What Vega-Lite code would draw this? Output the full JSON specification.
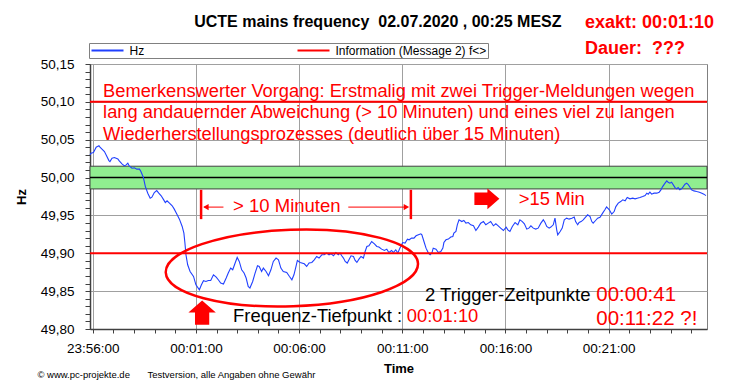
{
"$schema": "https://vega.github.io/schema/vega-lite/v6.json",
"width": 617, "height": 265,
"autosize": {"type": "none"},
"padding": {"left": 90, "top": 64, "right": 43, "bottom": 62},
"background": "white",
"config": {"font": "Liberation Sans", "view": {"stroke": "#808080", "strokeWidth": 1}},
"datasets": {
"frequency": [
{"time":"2020-07-01T23:55:52","hz":50.0299},{"time":"2020-07-01T23:55:55","hz":50.0322},{"time":"2020-07-01T23:56:02","hz":50.0330},{"time":"2020-07-01T23:56:10","hz":50.0401},{"time":"2020-07-01T23:56:18","hz":50.0422},{"time":"2020-07-01T23:56:21","hz":50.0401},{"time":"2020-07-01T23:56:29","hz":50.0365},{"time":"2020-07-01T23:56:34","hz":50.0343},{"time":"2020-07-01T23:56:39","hz":50.0299},{"time":"2020-07-01T23:56:47","hz":50.0224},{"time":"2020-07-01T23:56:50","hz":50.0211},{"time":"2020-07-01T23:56:56","hz":50.0256},{"time":"2020-07-01T23:57:03","hz":50.0264},{"time":"2020-07-01T23:57:13","hz":50.0247},{"time":"2020-07-01T23:57:17","hz":50.0220},{"time":"2020-07-01T23:57:25","hz":50.0181},{"time":"2020-07-01T23:57:32","hz":50.0154},{"time":"2020-07-01T23:57:37","hz":50.0168},{"time":"2020-07-01T23:57:42","hz":50.0190},{"time":"2020-07-01T23:57:46","hz":50.0154},{"time":"2020-07-01T23:57:54","hz":50.0124},{"time":"2020-07-01T23:58:01","hz":50.0128},{"time":"2020-07-01T23:58:08","hz":50.0111},{"time":"2020-07-01T23:58:16","hz":50.0111},{"time":"2020-07-01T23:58:20","hz":50.0079},{"time":"2020-07-01T23:58:27","hz":50.0005},{"time":"2020-07-01T23:58:33","hz":49.9881},{"time":"2020-07-01T23:58:40","hz":49.9794},{"time":"2020-07-01T23:58:47","hz":49.9728},{"time":"2020-07-01T23:58:52","hz":49.9741},{"time":"2020-07-01T23:58:59","hz":49.9802},{"time":"2020-07-01T23:59:06","hz":49.9828},{"time":"2020-07-01T23:59:12","hz":49.9794},{"time":"2020-07-01T23:59:19","hz":49.9759},{"time":"2020-07-01T23:59:25","hz":49.9715},{"time":"2020-07-01T23:59:31","hz":49.9670},{"time":"2020-07-01T23:59:36","hz":49.9693},{"time":"2020-07-01T23:59:43","hz":49.9662},{"time":"2020-07-01T23:59:51","hz":49.9627},{"time":"2020-07-01T23:59:57","hz":49.9583},
{"time":"2020-07-02T00:00:04","hz":49.9521},{"time":"2020-07-02T00:00:12","hz":49.9451},{"time":"2020-07-02T00:00:20","hz":49.9354},{"time":"2020-07-02T00:00:25","hz":49.9266},{"time":"2020-07-02T00:00:28","hz":49.9135},{"time":"2020-07-02T00:00:31","hz":49.8980},{"time":"2020-07-02T00:00:36","hz":49.8848},{"time":"2020-07-02T00:00:43","hz":49.8760},{"time":"2020-07-02T00:00:53","hz":49.8694},{"time":"2020-07-02T00:01:00","hz":49.8584},{"time":"2020-07-02T00:01:10","hz":49.8518},{"time":"2020-07-02T00:01:16","hz":49.8584},{"time":"2020-07-02T00:01:22","hz":49.8637},{"time":"2020-07-02T00:01:29","hz":49.8628},{"time":"2020-07-02T00:01:36","hz":49.8641},{"time":"2020-07-02T00:01:43","hz":49.8641},{"time":"2020-07-02T00:01:51","hz":49.8716},{"time":"2020-07-02T00:01:59","hz":49.8686},{"time":"2020-07-02T00:02:05","hz":49.8650},{"time":"2020-07-02T00:02:12","hz":49.8607},{"time":"2020-07-02T00:02:20","hz":49.8594},{"time":"2020-07-02T00:02:28","hz":49.8673},{"time":"2020-07-02T00:02:34","hz":49.8739},{"time":"2020-07-02T00:02:41","hz":49.8805},{"time":"2020-07-02T00:02:47","hz":49.8782},{"time":"2020-07-02T00:02:54","hz":49.8871},{"time":"2020-07-02T00:03:00","hz":49.8945},{"time":"2020-07-02T00:03:06","hz":49.8892},{"time":"2020-07-02T00:03:13","hz":49.8782},{"time":"2020-07-02T00:03:20","hz":49.8739},{"time":"2020-07-02T00:03:26","hz":49.8673},{"time":"2020-07-02T00:03:32","hz":49.8562},{"time":"2020-07-02T00:03:37","hz":49.8541},{"time":"2020-07-02T00:03:45","hz":49.8628},{"time":"2020-07-02T00:03:52","hz":49.8739},{"time":"2020-07-02T00:03:59","hz":49.8835},{"time":"2020-07-02T00:04:04","hz":49.8826},{"time":"2020-07-02T00:04:11","hz":49.8760},{"time":"2020-07-02T00:04:16","hz":49.8805},{"time":"2020-07-02T00:04:24","hz":49.8760},{"time":"2020-07-02T00:04:31","hz":49.8703},{"time":"2020-07-02T00:04:38","hz":49.8782},{"time":"2020-07-02T00:04:45","hz":49.8892},{"time":"2020-07-02T00:04:53","hz":49.8937},{"time":"2020-07-02T00:05:00","hz":49.8914},{"time":"2020-07-02T00:05:07","hz":49.8805},{"time":"2020-07-02T00:05:14","hz":49.8760},{"time":"2020-07-02T00:05:24","hz":49.8747},{"time":"2020-07-02T00:05:32","hz":49.8694},{"time":"2020-07-02T00:05:39","hz":49.8650},{"time":"2020-07-02T00:05:45","hz":49.8716},{"time":"2020-07-02T00:05:51","hz":49.8826},{"time":"2020-07-02T00:05:55","hz":49.8905},{"time":"2020-07-02T00:06:03","hz":49.8879},{"time":"2020-07-02T00:06:15","hz":49.8861},{"time":"2020-07-02T00:06:22","hz":49.8826},{"time":"2020-07-02T00:06:29","hz":49.8871},{"time":"2020-07-02T00:06:37","hz":49.8879},{"time":"2020-07-02T00:06:44","hz":49.8914},{"time":"2020-07-02T00:06:51","hz":49.8958},{"time":"2020-07-02T00:06:58","hz":49.8937},{"time":"2020-07-02T00:07:06","hz":49.8980},{"time":"2020-07-02T00:07:13","hz":49.8980},{"time":"2020-07-02T00:07:20","hz":49.9003},{"time":"2020-07-02T00:07:27","hz":49.8980},{"time":"2020-07-02T00:07:33","hz":49.8993},{"time":"2020-07-02T00:07:40","hz":49.8967},{"time":"2020-07-02T00:07:47","hz":49.9010},{"time":"2020-07-02T00:07:54","hz":49.8980},{"time":"2020-07-02T00:07:59","hz":49.9003},{"time":"2020-07-02T00:08:04","hz":49.8967},{"time":"2020-07-02T00:08:09","hz":49.8937},{"time":"2020-07-02T00:08:14","hz":49.8892},{"time":"2020-07-02T00:08:20","hz":49.8871},{"time":"2020-07-02T00:08:25","hz":49.8914},{"time":"2020-07-02T00:08:31","hz":49.8967},{"time":"2020-07-02T00:08:38","hz":49.8958},{"time":"2020-07-02T00:08:43","hz":49.8905},{"time":"2020-07-02T00:08:48","hz":49.8879},{"time":"2020-07-02T00:08:54","hz":49.8923},{"time":"2020-07-02T00:09:00","hz":49.8958},{"time":"2020-07-02T00:09:07","hz":49.8937},{"time":"2020-07-02T00:09:12","hz":49.9024},{"time":"2020-07-02T00:09:17","hz":49.9090},{"time":"2020-07-02T00:09:23","hz":49.9099},{"time":"2020-07-02T00:09:31","hz":49.9156},{"time":"2020-07-02T00:09:39","hz":49.9125},{"time":"2020-07-02T00:09:46","hz":49.9090},{"time":"2020-07-02T00:09:52","hz":49.9082},{"time":"2020-07-02T00:10:00","hz":49.9055},{"time":"2020-07-02T00:10:08","hz":49.9037},{"time":"2020-07-02T00:10:15","hz":49.9055},{"time":"2020-07-02T00:10:21","hz":49.9010},{"time":"2020-07-02T00:10:29","hz":49.9037},{"time":"2020-07-02T00:10:34","hz":49.9010},{"time":"2020-07-02T00:10:41","hz":49.9046},{"time":"2020-07-02T00:10:47","hz":49.9003},{"time":"2020-07-02T00:10:53","hz":49.9068},{"time":"2020-07-02T00:11:01","hz":49.9142},{"time":"2020-07-02T00:11:08","hz":49.9134},{"time":"2020-07-02T00:11:15","hz":49.9187},{"time":"2020-07-02T00:11:20","hz":49.9178},{"time":"2020-07-02T00:11:27","hz":49.9200},{"time":"2020-07-02T00:11:34","hz":49.9200},{"time":"2020-07-02T00:11:40","hz":49.9231},{"time":"2020-07-02T00:11:47","hz":49.9244},{"time":"2020-07-02T00:11:54","hz":49.9257},{"time":"2020-07-02T00:11:57","hz":49.9244},{"time":"2020-07-02T00:12:03","hz":49.9156},{"time":"2020-07-02T00:12:09","hz":49.9068},{"time":"2020-07-02T00:12:16","hz":49.9003},{"time":"2020-07-02T00:12:21","hz":49.8980},{"time":"2020-07-02T00:12:26","hz":49.9003},{"time":"2020-07-02T00:12:30","hz":49.9068},{"time":"2020-07-02T00:12:38","hz":49.9055},{"time":"2020-07-02T00:12:45","hz":49.9010},{"time":"2020-07-02T00:12:52","hz":49.9024},{"time":"2020-07-02T00:12:58","hz":49.9068},{"time":"2020-07-02T00:13:01","hz":49.9142},{"time":"2020-07-02T00:13:07","hz":49.9178},{"time":"2020-07-02T00:13:14","hz":49.9187},{"time":"2020-07-02T00:13:21","hz":49.9214},{"time":"2020-07-02T00:13:27","hz":49.9222},{"time":"2020-07-02T00:13:30","hz":49.9266},{"time":"2020-07-02T00:13:36","hz":49.9288},{"time":"2020-07-02T00:13:40","hz":49.9376},{"time":"2020-07-02T00:13:45","hz":49.9442},{"time":"2020-07-02T00:13:53","hz":49.9419},{"time":"2020-07-02T00:13:59","hz":49.9433},{"time":"2020-07-02T00:14:05","hz":49.9398},{"time":"2020-07-02T00:14:12","hz":49.9406},{"time":"2020-07-02T00:14:19","hz":49.9376},{"time":"2020-07-02T00:14:27","hz":49.9363},{"time":"2020-07-02T00:14:34","hz":49.9301},{"time":"2020-07-02T00:14:41","hz":49.9346},{"time":"2020-07-02T00:14:48","hz":49.9398},{"time":"2020-07-02T00:14:56","hz":49.9419},{"time":"2020-07-02T00:15:03","hz":49.9376},{"time":"2020-07-02T00:15:10","hz":49.9398},{"time":"2020-07-02T00:15:17","hz":49.9419},{"time":"2020-07-02T00:15:25","hz":49.9363},{"time":"2020-07-02T00:15:32","hz":49.9389},{"time":"2020-07-02T00:15:39","hz":49.9363},{"time":"2020-07-02T00:15:46","hz":49.9332},{"time":"2020-07-02T00:15:54","hz":49.9301},{"time":"2020-07-02T00:16:02","hz":49.9346},{"time":"2020-07-02T00:16:07","hz":49.9310},{"time":"2020-07-02T00:16:13","hz":49.9288},{"time":"2020-07-02T00:16:20","hz":49.9354},{"time":"2020-07-02T00:16:28","hz":49.9406},{"time":"2020-07-02T00:16:36","hz":49.9376},{"time":"2020-07-02T00:16:42","hz":49.9442},{"time":"2020-07-02T00:16:49","hz":49.9419},{"time":"2020-07-02T00:16:55","hz":49.9389},{"time":"2020-07-02T00:17:02","hz":49.9319},{"time":"2020-07-02T00:17:08","hz":49.9332},{"time":"2020-07-02T00:17:14","hz":49.9363},{"time":"2020-07-02T00:17:21","hz":49.9332},{"time":"2020-07-02T00:17:28","hz":49.9319},{"time":"2020-07-02T00:17:35","hz":49.9332},{"time":"2020-07-02T00:17:43","hz":49.9398},{"time":"2020-07-02T00:17:50","hz":49.9442},{"time":"2020-07-02T00:17:55","hz":49.9406},{"time":"2020-07-02T00:18:00","hz":49.9354},{"time":"2020-07-02T00:18:07","hz":49.9332},{"time":"2020-07-02T00:18:12","hz":49.9346},{"time":"2020-07-02T00:18:19","hz":49.9376},{"time":"2020-07-02T00:18:24","hz":49.9464},{"time":"2020-07-02T00:18:29","hz":49.9310},{"time":"2020-07-02T00:18:32","hz":49.9244},{"time":"2020-07-02T00:18:39","hz":49.9288},{"time":"2020-07-02T00:18:45","hz":49.9332},{"time":"2020-07-02T00:18:51","hz":49.9442},{"time":"2020-07-02T00:18:58","hz":49.9464},{"time":"2020-07-02T00:19:05","hz":49.9451},{"time":"2020-07-02T00:19:13","hz":49.9464},{"time":"2020-07-02T00:19:20","hz":49.9478},{"time":"2020-07-02T00:19:24","hz":49.9419},{"time":"2020-07-02T00:19:30","hz":49.9376},{"time":"2020-07-02T00:19:34","hz":49.9406},{"time":"2020-07-02T00:19:40","hz":49.9419},{"time":"2020-07-02T00:19:46","hz":49.9442},{"time":"2020-07-02T00:19:53","hz":49.9478},{"time":"2020-07-02T00:19:59","hz":49.9508},{"time":"2020-07-02T00:20:06","hz":49.9485},{"time":"2020-07-02T00:20:11","hz":49.9419},{"time":"2020-07-02T00:20:15","hz":49.9398},{"time":"2020-07-02T00:20:22","hz":49.9433},{"time":"2020-07-02T00:20:28","hz":49.9464},{"time":"2020-07-02T00:20:35","hz":49.9475},{"time":"2020-07-02T00:20:43","hz":49.9534},{"time":"2020-07-02T00:20:49","hz":49.9574},{"time":"2020-07-02T00:20:54","hz":49.9613},{"time":"2020-07-02T00:21:02","hz":49.9574},{"time":"2020-07-02T00:21:09","hz":49.9517},{"time":"2020-07-02T00:21:16","hz":49.9551},{"time":"2020-07-02T00:21:21","hz":49.9617},{"time":"2020-07-02T00:21:28","hz":49.9662},{"time":"2020-07-02T00:21:35","hz":49.9683},{"time":"2020-07-02T00:21:41","hz":49.9706},{"time":"2020-07-02T00:21:48","hz":49.9693},{"time":"2020-07-02T00:21:54","hz":49.9736},{"time":"2020-07-02T00:22:02","hz":49.9719},{"time":"2020-07-02T00:22:10","hz":49.9728},{"time":"2020-07-02T00:22:17","hz":49.9719},{"time":"2020-07-02T00:22:23","hz":49.9728},{"time":"2020-07-02T00:22:31","hz":49.9736},{"time":"2020-07-02T00:22:39","hz":49.9749},{"time":"2020-07-02T00:22:46","hz":49.9762},{"time":"2020-07-02T00:22:51","hz":49.9794},{"time":"2020-07-02T00:22:55","hz":49.9781},{"time":"2020-07-02T00:23:00","hz":49.9807},{"time":"2020-07-02T00:23:05","hz":49.9781},{"time":"2020-07-02T00:23:12","hz":49.9794},{"time":"2020-07-02T00:23:20","hz":49.9794},{"time":"2020-07-02T00:23:27","hz":49.9807},{"time":"2020-07-02T00:23:32","hz":49.9838},{"time":"2020-07-02T00:23:37","hz":49.9881},{"time":"2020-07-02T00:23:44","hz":49.9926},{"time":"2020-07-02T00:23:49","hz":49.9956},{"time":"2020-07-02T00:23:53","hz":49.9939},{"time":"2020-07-02T00:23:58","hz":49.9926},{"time":"2020-07-02T00:24:03","hz":49.9939},{"time":"2020-07-02T00:24:08","hz":49.9904},{"time":"2020-07-02T00:24:13","hz":49.9868},{"time":"2020-07-02T00:24:18","hz":49.9851},{"time":"2020-07-02T00:24:22","hz":49.9868},{"time":"2020-07-02T00:24:27","hz":49.9838},{"time":"2020-07-02T00:24:32","hz":49.9851},{"time":"2020-07-02T00:24:37","hz":49.9881},{"time":"2020-07-02T00:24:42","hz":49.9913},{"time":"2020-07-02T00:24:47","hz":49.9926},{"time":"2020-07-02T00:24:52","hz":49.9904},{"time":"2020-07-02T00:24:57","hz":49.9868},{"time":"2020-07-02T00:25:01","hz":49.9838},{"time":"2020-07-02T00:25:08","hz":49.9824},{"time":"2020-07-02T00:25:16","hz":49.9815},{"time":"2020-07-02T00:25:24","hz":49.9807},{"time":"2020-07-02T00:25:31","hz":49.9794},{"time":"2020-07-02T00:25:37","hz":49.9781},{"time":"2020-07-02T00:25:43","hz":49.9762}
],
"limits": [{"series":"Information (Message 2) f<>","hz":50.10},{"series":"Information (Message 2) f<>","hz":49.90}]
},
"layer": [
{"data":{"values":[{}]},"mark":{"type":"rect","fill":"#90ee90","stroke":"#404040","strokeWidth":1},
 "encoding":{"x":{"datum":{"year":2020,"month":7,"date":1,"hours":23,"minutes":55,"seconds":52},"type":"temporal"},"x2":{"datum":{"year":2020,"month":7,"date":2,"hours":0,"minutes":25,"seconds":46}},
  "y":{"datum":49.985,"type":"quantitative"},"y2":{"datum":50.015}}},
{"data":{"values":[{}]},"mark":{"type":"rule","color":"#000000","strokeWidth":1.5},"encoding":{"y":{"datum":50.0,"type":"quantitative"}}},
{"data":{"name":"frequency"},"mark":{"type":"line","strokeWidth":1.1,"color":"#2040ff"},
 "encoding":{
  "x":{"field":"time","type":"temporal","scale":{"domain":[{"year":2020,"month":7,"date":1,"hours":23,"minutes":55,"seconds":52},{"year":2020,"month":7,"date":2,"hours":0,"minutes":25,"seconds":46}]},
   "axis":{"title":"Time","tickCount":100,"values":[
{"year":2020,"month":7,"date":1,"hours":23,"minutes":56},{"year":2020,"month":7,"date":1,"hours":23,"minutes":57},{"year":2020,"month":7,"date":1,"hours":23,"minutes":58},{"year":2020,"month":7,"date":1,"hours":23,"minutes":59},
{"year":2020,"month":7,"date":2,"hours":0,"minutes":0},{"year":2020,"month":7,"date":2,"hours":0,"minutes":1},{"year":2020,"month":7,"date":2,"hours":0,"minutes":2},{"year":2020,"month":7,"date":2,"hours":0,"minutes":3},{"year":2020,"month":7,"date":2,"hours":0,"minutes":4},{"year":2020,"month":7,"date":2,"hours":0,"minutes":5},{"year":2020,"month":7,"date":2,"hours":0,"minutes":6},{"year":2020,"month":7,"date":2,"hours":0,"minutes":7},{"year":2020,"month":7,"date":2,"hours":0,"minutes":8},{"year":2020,"month":7,"date":2,"hours":0,"minutes":9},{"year":2020,"month":7,"date":2,"hours":0,"minutes":10},{"year":2020,"month":7,"date":2,"hours":0,"minutes":11},{"year":2020,"month":7,"date":2,"hours":0,"minutes":12},{"year":2020,"month":7,"date":2,"hours":0,"minutes":13},{"year":2020,"month":7,"date":2,"hours":0,"minutes":14},{"year":2020,"month":7,"date":2,"hours":0,"minutes":15},{"year":2020,"month":7,"date":2,"hours":0,"minutes":16},{"year":2020,"month":7,"date":2,"hours":0,"minutes":17},{"year":2020,"month":7,"date":2,"hours":0,"minutes":18},{"year":2020,"month":7,"date":2,"hours":0,"minutes":19},{"year":2020,"month":7,"date":2,"hours":0,"minutes":20},{"year":2020,"month":7,"date":2,"hours":0,"minutes":21},{"year":2020,"month":7,"date":2,"hours":0,"minutes":22},{"year":2020,"month":7,"date":2,"hours":0,"minutes":23},{"year":2020,"month":7,"date":2,"hours":0,"minutes":24},{"year":2020,"month":7,"date":2,"hours":0,"minutes":25}],
   "labelExpr":"minutes(datum.value) % 5 == 1 ? timeFormat(datum.value, '%H:%M:%S') : ''","labelOverlap":false,"labelFlush":false,"labelBound":false,"grid":true,"gridColor":"#a0a0a0","gridWidth":1,"gridOpacity":{"condition":{"test":"minutes(datum.value) % 5 == 1","value":1},"value":0},"tickSize":4,"tickColor":"#404040","domainColor":"#404040","domainWidth":1.5,"labelFont":"Liberation Sans","labelFontSize":13.5,"labelColor":"#000000","labelPadding":8,"titleFont":"Liberation Sans","titleFontSize":13,"titleFontWeight":"bold","titleColor":"#000000","titlePadding":8}},
  "y":{"field":"hz","type":"quantitative","scale":{"domain":[49.8,50.15],"nice":false,"zero":false},
   "axis":{"title":"Hz","tickCount":100,"values":[49.8,49.81,49.82,49.83,49.84,49.85,49.86,49.87,49.88,49.89,49.9,49.91,49.92,49.93,49.94,49.95,49.96,49.97,49.98,49.99,50,50.01,50.02,50.03,50.04,50.05,50.06,50.07,50.08,50.09,50.1,50.11,50.12,50.13,50.14,50.15],"labelExpr":"round(datum.value*100) % 5 == 0 ? replace(format(datum.value, '.2f'), '.', ',') : ''","labelOverlap":false,"labelBound":false,"labelFlush":false,"grid":true,"gridColor":"#a0a0a0","gridOpacity":{"condition":{"test":"round(datum.value*100) % 5 == 0","value":1},"value":0},"tickSize":5,"tickColor":"#404040","domainColor":"#404040","domainWidth":1.5,"labelFont":"Liberation Sans","labelFontSize":13.5,"labelColor":"#000000","labelPadding":11,"titleFont":"Liberation Sans","titleFontSize":13,"titleFontWeight":"bold","titleColor":"#000000","titlePadding":12}}}},
{"data":{"name":"limits"},"mark":{"type":"rule","strokeWidth":2},"encoding":{"y":{"field":"hz","type":"quantitative"},
  "color":{"field":"series","type":"nominal","scale":{"domain":["Hz","Information (Message 2) f<>"],"range":["#2040ff","#ff0000"]},
   "legend":{"orient":"none","legendX":-1,"legendY":-21,"direction":"horizontal","title":null,"symbolType":"stroke","symbolSize":1024,"symbolStrokeWidth":2,"clipHeight":12,"labelOffset":5,"labelFontSize":12,"labelFont":"Liberation Sans","labelColor":"#000000","columnPadding":152,"strokeColor":"#808080","fillColor":"#ffffff","padding":1.5}}}},
{"data":{"values":[{}]},"mark":{"type":"rule","color":"#ff0000","strokeWidth":2.5},"encoding":{"x":{"datum":{"year":2020,"month":7,"date":2,"hours":0,"minutes":1,"seconds":15},"type":"temporal"},"y":{"datum":49.9838,"type":"quantitative"},"y2":{"datum":49.9451}}},
{"data":{"values":[{}]},"mark":{"type":"rule","color":"#ff0000","strokeWidth":2.5},"encoding":{"x":{"datum":{"year":2020,"month":7,"date":2,"hours":0,"minutes":11,"seconds":25},"type":"temporal"},"y":{"datum":49.9838,"type":"quantitative"},"y2":{"datum":49.9451}}},
{"data":{"values":[{}]},"mark":{"type":"rule","color":"#ff0000","strokeWidth":1},"encoding":{"x":{"datum":{"year":2020,"month":7,"date":2,"hours":0,"minutes":1,"seconds":24},"type":"temporal"},"x2":{"datum":{"year":2020,"month":7,"date":2,"hours":0,"minutes":2,"seconds":20}},"y":{"datum":49.961,"type":"quantitative"}}},
{"data":{"values":[{}]},"mark":{"type":"rule","color":"#ff0000","strokeWidth":1},"encoding":{"x":{"datum":{"year":2020,"month":7,"date":2,"hours":0,"minutes":8,"seconds":23},"type":"temporal"},"x2":{"datum":{"year":2020,"month":7,"date":2,"hours":0,"minutes":11,"seconds":12}},"y":{"datum":49.961,"type":"quantitative"}}},
{"data":{"values":[{}]},"mark":{"type":"point","shape":"triangle-left","filled":true,"color":"#ff0000","size":40,"opacity":1},"encoding":{"x":{"datum":{"year":2020,"month":7,"date":2,"hours":0,"minutes":1,"seconds":29},"type":"temporal"},"y":{"datum":49.961,"type":"quantitative"}}},
{"data":{"values":[{}]},"mark":{"type":"point","shape":"triangle-right","filled":true,"color":"#ff0000","size":40,"opacity":1},"encoding":{"x":{"datum":{"year":2020,"month":7,"date":2,"hours":0,"minutes":11,"seconds":12},"type":"temporal"},"y":{"datum":49.961,"type":"quantitative"}}},
{"data":{"values":[{}]},"mark":{"type":"point","shape":"M-1,-0.5L0.04,-0.5L0.04,-0.83L1,0L0.04,0.83L0.04,0.5L-1,0.5Z","filled":true,"color":"#ff0000","size":625,"opacity":1},"encoding":{"x":{"datum":{"year":2020,"month":7,"date":2,"hours":0,"minutes":15,"seconds":6},"type":"temporal"},"y":{"datum":49.9719,"type":"quantitative"}}},
{"data":{"values":[{}]},"mark":{"type":"point","shape":"M0,-0.89L1,0L0.52,0L0.52,0.89L-0.52,0.89L-0.52,0L-1,0Z","filled":true,"color":"#ff0000","size":751,"opacity":1},"encoding":{"x":{"datum":{"year":2020,"month":7,"date":2,"hours":0,"minutes":1,"seconds":18},"type":"temporal"},"y":{"datum":49.8217,"type":"quantitative"}}},
{"data":{"values":[{}]},"mark":{"type":"point","shape":"M1,0C1,0.1673 0.5523,0.303 0,0.303C-0.5523,0.303 -1,0.1673 -1,0C-1,-0.1673 -0.5523,-0.303 0,-0.303C0.5523,-0.303 1,-0.1673 1,0Z","filled":false,"color":"#ff0000","strokeWidth":2.5,"size":63700,"angle":-2,"opacity":1},"encoding":{"x":{"datum":{"year":2020,"month":7,"date":2,"hours":0,"minutes":5,"seconds":39},"type":"temporal"},"y":{"datum":49.8805,"type":"quantitative"}}},
{"data":{"values":[{}]},"mark":{"type":"text","text":["Bemerkenswerter Vorgang: Erstmalig mit zwei Trigger-Meldungen wegen","lang andauernder Abweichung (> 10 Minuten) und eines viel zu langen","Wiederherstellungsprozesses (deutlich über 15 Minuten)"],"align":"left","baseline":"alphabetic","lineHeight":21.7,"fontSize":18.3,"color":"#ff0000"},"encoding":{"x":{"datum":{"year":2020,"month":7,"date":1,"hours":23,"minutes":56,"seconds":30},"type":"temporal"},"y":{"datum":50.1069,"type":"quantitative"}}},
{"data":{"values":[{}]},"mark":{"type":"text","text":"> 10 Minuten","align":"left","baseline":"alphabetic","fontSize":18.5,"color":"#ff0000"},"encoding":{"x":{"datum":{"year":2020,"month":7,"date":2,"hours":0,"minutes":2,"seconds":48},"type":"temporal"},"y":{"datum":49.9551,"type":"quantitative"}}},
{"data":{"values":[{}]},"mark":{"type":"text","text":">15 Min","align":"left","baseline":"alphabetic","fontSize":18.4,"color":"#ff0000"},"encoding":{"x":{"datum":{"year":2020,"month":7,"date":2,"hours":0,"minutes":16,"seconds":39},"type":"temporal"},"y":{"datum":49.9633,"type":"quantitative"}}},
{"data":{"values":[{}]},"mark":{"type":"text","text":"Frequenz-Tiefpunkt :","align":"left","baseline":"alphabetic","fontSize":18.4,"color":"#000000"},"encoding":{"x":{"datum":{"year":2020,"month":7,"date":2,"hours":0,"minutes":2,"seconds":48},"type":"temporal"},"y":{"datum":49.8087,"type":"quantitative"}}},
{"data":{"values":[{}]},"mark":{"type":"text","text":"00:01:10","align":"left","baseline":"alphabetic","fontSize":18.4,"color":"#ff0000"},"encoding":{"x":{"datum":{"year":2020,"month":7,"date":2,"hours":0,"minutes":11,"seconds":13},"type":"temporal"},"y":{"datum":49.8087,"type":"quantitative"}}},
{"data":{"values":[{}]},"mark":{"type":"text","text":"2 Trigger-Zeitpunkte","align":"left","baseline":"alphabetic","fontSize":18.5,"color":"#000000"},"encoding":{"x":{"datum":{"year":2020,"month":7,"date":2,"hours":0,"minutes":12,"seconds":6},"type":"temporal"},"y":{"datum":49.8373,"type":"quantitative"}}},
{"data":{"values":[{}]},"mark":{"type":"text","text":"00:00:41","align":"left","baseline":"alphabetic","fontSize":20.5,"color":"#ff0000"},"encoding":{"x":{"datum":{"year":2020,"month":7,"date":2,"hours":0,"minutes":20,"seconds":24},"type":"temporal"},"y":{"datum":49.8373,"type":"quantitative"}}},
{"data":{"values":[{}]},"mark":{"type":"text","text":"00:11:22 ?!","align":"left","baseline":"alphabetic","fontSize":20.5,"color":"#ff0000"},"encoding":{"x":{"datum":{"year":2020,"month":7,"date":2,"hours":0,"minutes":20,"seconds":24},"type":"temporal"},"y":{"datum":49.8057,"type":"quantitative"}}},
{"data":{"values":[{}]},"mark":{"type":"text","text":"UCTE mains frequency \u00a002.07.2020 , 00:25 MESZ","align":"center","baseline":"alphabetic","fontSize":16,"fontWeight":"bold","color":"#000000"},"encoding":{"x":{"datum":{"year":2020,"month":7,"date":2,"hours":0,"minutes":9,"seconds":49},"type":"temporal"},"y":{"datum":50.1984,"type":"quantitative"}}},
{"data":{"values":[{}]},"mark":{"type":"text","text":"exakt: 00:01:10","align":"left","baseline":"alphabetic","fontSize":18,"fontWeight":"bold","color":"#ff0000"},"encoding":{"x":{"datum":{"year":2020,"month":7,"date":2,"hours":0,"minutes":19,"seconds":51},"type":"temporal"},"y":{"datum":50.1971,"type":"quantitative"}}},
{"data":{"values":[{}]},"mark":{"type":"text","text":"Dauer: \u00a0???","align":"left","baseline":"alphabetic","fontSize":18,"fontWeight":"bold","color":"#ff0000"},"encoding":{"x":{"datum":{"year":2020,"month":7,"date":2,"hours":0,"minutes":19,"seconds":51},"type":"temporal"},"y":{"datum":50.1628,"type":"quantitative"}}},
{"data":{"values":[{}]},"mark":{"type":"text","text":"© www.pc-projekte.de","align":"left","baseline":"alphabetic","fontSize":9.5,"color":"#000000"},"encoding":{"x":{"datum":{"year":2020,"month":7,"date":1,"hours":23,"minutes":53,"seconds":19},"type":"temporal"},"y":{"datum":49.7351,"type":"quantitative"}}},
{"data":{"values":[{}]},"mark":{"type":"text","text":"Testversion, alle Angaben ohne Gewähr","align":"left","baseline":"alphabetic","fontSize":9.5,"color":"#000000"},"encoding":{"x":{"datum":{"year":2020,"month":7,"date":1,"hours":23,"minutes":58,"seconds":39},"type":"temporal"},"y":{"datum":49.7351,"type":"quantitative"}}}
]
}
